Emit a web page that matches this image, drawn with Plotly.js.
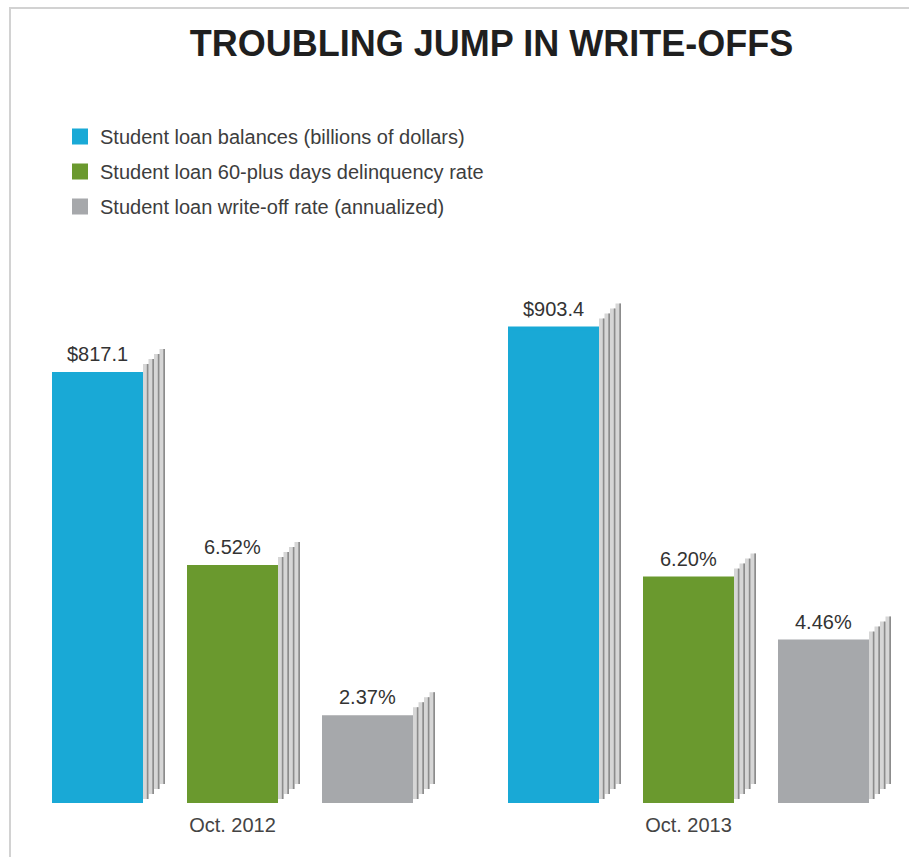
<!DOCTYPE html>
<html><head><meta charset="utf-8">
<script src="https://cdn.plot.ly/plotly-3.0.1.min.js"></script>
<style>
html,body{margin:0;padding:0;background:#fff;}
#chart{width:909px;height:857px;}
#frame{position:absolute;left:9px;top:7px;width:900px;height:850px;border-left:2px solid #d2d2d2;border-top:2px solid #d2d2d2;pointer-events:none;}
</style>
</head><body><div id="chart"></div><div id="frame"></div>
<script>
// ---- data ----
const categories = ['Oct. 2012', 'Oct. 2013'];
const seriesNames = [
  'Student loan balances (billions of dollars)',
  'Student loan 60-plus days delinquency rate',
  'Student loan write-off rate (annualized)'
];
const balances = [817.1, 903.4];
const delinquency = [6.52, 6.20];
const writeoff = [2.37, 4.46];

// ---- layout geometry ----
const W = 909, H = 857, mT = 250, mB = 54;
const plotH = H - mT - mB;
const pxPerCat = 456;
const x0 = -232.5 / pxPerCat;
const x1 = x0 + W / pxPerCat;
const yR1 = 1053, yR2 = 15.28;
const ppu = {y: plotH / yR1, y2: plotH / yR2};
const barPx = 91, lineW = 4;

const series = [
  {name: seriesNames[0], vals: balances, color: '#19a9d6', axis: 'y', offPx: -180.5, fmt: v => '$' + v.toFixed(1)},
  {name: seriesNames[1], vals: delinquency, color: '#6a992e', axis: 'y2', offPx: -45.5, fmt: v => v.toFixed(2) + '%'},
  {name: seriesNames[2], vals: writeoff, color: '#a6a8ab', axis: 'y2', offPx: 89.5, fmt: v => v.toFixed(2) + '%'}
];

const traces = [];
const annotations = [];
const stripPx = 5.5;

series.forEach((s, si) => {
  const p = ppu[s.axis];
  for (let k = 4; k >= 1; k--) {
    const topRise = 5 * k + 5;
    const botRise = 5 * k - 1;
    const base = botRise / p;
    const heights = s.vals.map(v => v + topRise / p - base);
    const common = {type: 'bar', x: categories, y: heights, base: base, yaxis: s.axis,
      showlegend: false, hoverinfo: 'skip'};
    traces.push(Object.assign({}, common, {
      offset: (s.offPx + barPx + stripPx * (k - 1)) / pxPerCat,
      width: stripPx / pxPerCat,
      marker: {color: '#d6d6d6', line: {width: 0}}
    }));
    traces.push(Object.assign({}, common, {
      offset: (s.offPx + barPx + stripPx * k - 1.7) / pxPerCat,
      width: 1.7 / pxPerCat,
      marker: {color: '#8c8c8c', line: {width: 0}}
    }));
  }
});

series.forEach((s, si) => {
  traces.push({
    type: 'bar', name: s.name, x: categories, y: s.vals, yaxis: s.axis,
    offset: (s.offPx + lineW / 2) / pxPerCat,
    width: (barPx - lineW) / pxPerCat,
    marker: {color: s.color, line: {color: s.color, width: lineW}},
    legendgroup: 'g' + si, hoverinfo: 'skip'
  });
  s.vals.forEach((v, i) => {
    annotations.push({
      x: i + (s.offPx + barPx / 2) / pxPerCat, y: v,
      xref: 'x', yref: s.axis, text: s.fmt(v), showarrow: false,
      yanchor: 'bottom', yshift: 7,
      font: {size: 20, color: '#333333'}
    });
  });
});

const layout = {
  width: W, height: H,
  margin: {l: 0, r: 0, t: mT, b: mB, pad: 0},
  paper_bgcolor: '#ffffff', plot_bgcolor: '#ffffff',
  font: {family: '"Liberation Sans", Arial, Helvetica, sans-serif', color: '#444444', size: 20},
  title: {
    text: 'TROUBLING JUMP IN WRITE-OFFS',
    x: 491.5 / W, xanchor: 'center', xref: 'paper',
    y: 1 - 43 / H, yanchor: 'middle', yref: 'container',
    font: {size: 36, color: '#1f1f1f', weight: 'bold', family: '"Liberation Sans", Arial, sans-serif'}
  },
  barmode: 'overlay',
  showlegend: true,
  legend: {
    x: 60 / W, xanchor: 'left', y: 1 + (mT - 117) / plotH, yanchor: 'top',
    bgcolor: 'rgba(0,0,0,0)', borderwidth: 0,
    font: {size: 20, color: '#3d3d3d'},
    traceorder: 'grouped', tracegroupgap: 6
  },
  xaxis: {
    type: 'category', range: [x0, x1], showgrid: false, zeroline: false, showline: false,
    ticks: '', tickfont: {size: 20, color: '#444444'}, ticklabelstandoff: 8, fixedrange: true
  },
  yaxis: {range: [0, yR1], visible: false, fixedrange: true},
  yaxis2: {range: [0, yR2], overlaying: 'y', visible: false, fixedrange: true},
  annotations: annotations
};

Plotly.newPlot('chart', traces, layout, {displayModeBar: false, staticPlot: true});
</script>
</body></html>
